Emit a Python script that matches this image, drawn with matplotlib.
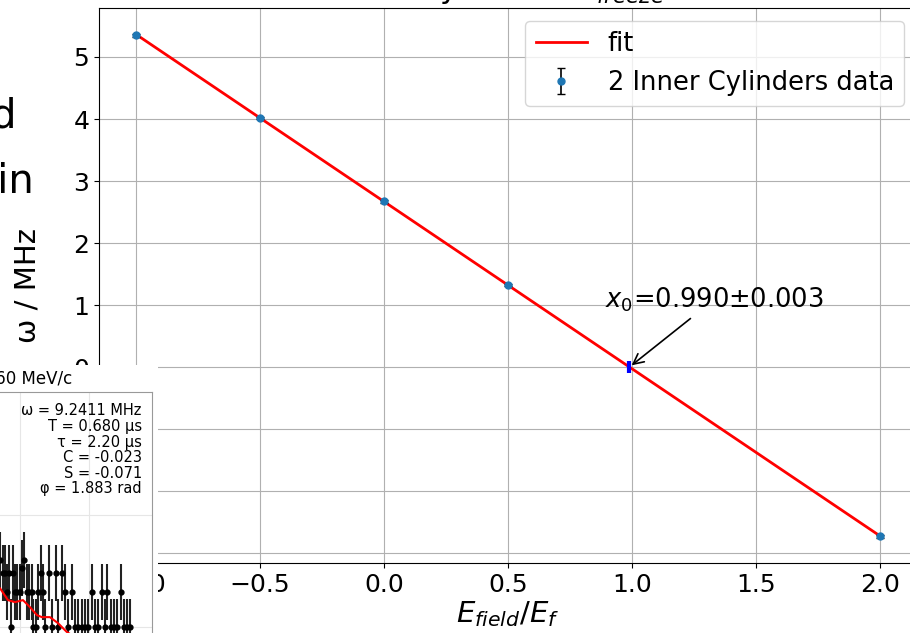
import matplotlib
matplotlib.use("Agg")
import matplotlib.pyplot as plt
from matplotlib.patches import Rectangle
import numpy as np

# main plot: precession frequency vs field ratio
e_ratio = [-1.0, -0.5, 0.0, 0.5, 2.0]
omega = [5.35, 4.02, 2.67, 1.32, -2.73]
omega_err = [0.02, 0.02, 0.02, 0.02, 0.02]
fit_slope = -2.695
fit_intercept = 2.668
x0 = 0.990
x0_err = 0.003

# inset: asymmetry vs time (only part of it is visible)
inset_t = [1.855, 1.875, 1.891, 1.906, 1.920, 1.935, 1.949, 1.964, 1.978, 2.000,
           2.014, 2.029, 2.051, 2.065, 2.087, 2.094, 2.116, 2.130, 2.152, 2.167,
           2.181, 2.210, 2.232, 2.261, 2.275, 2.304, 2.326, 2.348, 2.377, 2.399,
           2.420, 2.449, 2.471, 2.493, 2.522, 2.543, 2.565, 2.594, 2.616, 2.630,
           2.659, 2.681, 2.703, 2.732, 2.754, 2.775, 2.797]
inset_a = [0.060, 0.048, 0.048, 0.031, 0.048, 0.000, 0.048, 0.031, 0.031, 0.031,
           0.053, 0.060, 0.031, 0.031, 0.031, 0.000, 0.000, 0.031, 0.048, 0.031,
           0.000, 0.048, 0.000, 0.048, 0.000, 0.048, 0.031, 0.000, 0.031, 0.000,
           0.000, 0.000, 0.000, 0.000, 0.031, 0.000, 0.000, 0.031, 0.000, 0.031,
           0.000, 0.000, 0.000, 0.031, 0.000, 0.000, 0.000]
inset_err = 0.025
fit_t = [1.783, 1.855, 1.913, 1.964, 2.022, 2.072, 2.123, 2.159, 2.217, 2.275, 2.341, 2.435]
fit_a = [0.0375, 0.0348, 0.0241, 0.0223, 0.0241, 0.0179, 0.0107, 0.0089, 0.0089, 0.0036, -0.0045, -0.0116]
fit_params = ["ω = 9.2411 MHz", "T = 0.680 μs", "τ = 2.20 μs",
              "C = -0.023", "S = -0.071", "φ = 1.883 rad"]

W, H = 910, 633
fig = plt.figure(figsize=(W / 100, H / 100), dpi=100)

def px_box(left, top, right, bottom):
    return [left / W, 1 - bottom / H, (right - left) / W, (bottom - top) / H]

ax = fig.add_axes(px_box(99, 8, 917, 563))
ax.grid(True, color="#b0b0b0", lw=0.8)
xs = np.array([e_ratio[0], e_ratio[-1]])
ax.plot(xs, fit_slope * xs + fit_intercept, color="red", lw=2, label="fit", zorder=3)
ax.errorbar(e_ratio, omega, yerr=omega_err, fmt="o", color="C0", ms=5,
            ecolor="black", capsize=3, elinewidth=1.2, label="2 Inner Cylinders data", zorder=4)
ax.plot([x0], [0], marker="|", color="blue", ms=9, mew=3, zorder=5)
ax.annotate(f"$x_0$={x0:.3f}±{x0_err:.3f}", xy=(x0, 0), xytext=(0.89, 0.96),
            fontsize=18.5, arrowprops=dict(arrowstyle="->", color="black", lw=1.2))
ax.set_xlim(-1.15, 2.15)
ax.set_ylim(-3.16, 5.79)
ax.set_xticks([-1.0, -0.5, 0.0, 0.5, 1.0, 1.5, 2.0])
ax.tick_params(labelsize=18)
ax.set_xlabel("$E_{field}/E_f$", fontsize=21, labelpad=2)
ax.legend(loc="upper right", fontsize=18.5)

# title sits above the visible area, only its descenders show
fig.text(324 / W, 1 + 2.5 / H, "Linearity vs $E$ in $E_{freeze}$", fontsize=22,
         ha="left", va="baseline")
fig.text(27 / W, 1 - 286 / H, "ω / MHz", rotation=90, fontsize=21,
         ha="center", va="center")
fig.text(16 / W, 1 - 128 / H, "Measured", fontsize=29, ha="right", va="baseline")
fig.text(34 / W, 1 - 193 / H, "within", fontsize=29, ha="right", va="baseline")

# white patch where the inset figure is pasted over the main plot
fig.patches.append(Rectangle((0, 0), 158 / W, (H - 365) / H, transform=fig.transFigure,
                             facecolor="white", edgecolor="none", zorder=2))

ins = fig.add_axes(px_box(-256, 392, 152, 851), zorder=3)
ins.grid(True, color="#e6e6e6", lw=0.8)
ins.errorbar(inset_t, inset_a, yerr=inset_err, fmt="o", color="black", ms=3.5,
             elinewidth=1.5, capsize=0, ecolor="#222222")
ins.plot(fit_t, fit_a, color="red", lw=1.5, zorder=4)
ins.set_xlim(0, 2.957)
ins.set_ylim(-0.2, 0.21)
ins.set_xticks([0.5, 1.0, 1.5, 2.0, 2.5])
ins.set_yticks([-0.1, 0.0, 0.1])
for s in ins.spines.values():
    s.set_color("#999999")
ins.set_title("Inner Cylinders, p = 60 MeV/c", fontsize=12)
ins.text(0.975, 0.975, "\n".join(fit_params), transform=ins.transAxes, fontsize=10.5,
         ha="right", va="top", linespacing=1.05)

fig.savefig("out.png", dpi=100)
